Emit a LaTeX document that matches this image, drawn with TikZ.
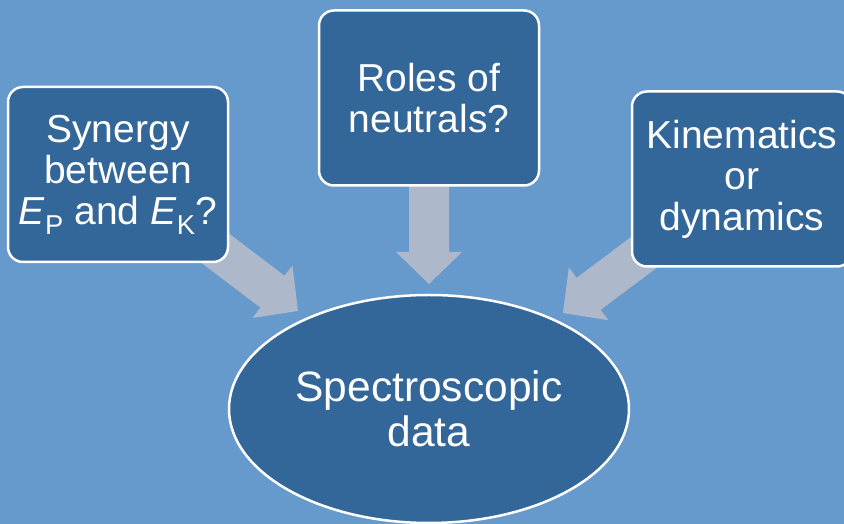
\documentclass[tikz,border=0pt]{standalone}
\usepackage{fontspec}
\setmainfont{Liberation Sans}
\usetikzlibrary{calc,shapes.geometric,backgrounds}
\definecolor{slidebg}{HTML}{6699CC}
\definecolor{boxblue}{HTML}{336699}
\definecolor{arrowgrey}{HTML}{ADB9CA}
% block arrow from #1 to tip #2
\newcommand\blockarrow[2]{%
  \coordinate (hb) at ($(#2)!32pt!(#1)$);
  \fill[arrowgrey] ($(#1)!20pt!90:(#2)$) -- ($(hb)!20pt!90:(#2)$) -- ($(hb)!33pt!90:(#2)$)
    -- (#2) -- ($(hb)!33pt!-90:(#2)$) -- ($(hb)!20pt!-90:(#2)$) -- ($(#1)!20pt!-90:(#2)$) -- cycle;}
\tikzset{
  qbox/.style={draw=white, line width=2.5pt, fill=boxblue, rounded corners=15pt,
    minimum width=220pt, minimum height=175pt, text=white, align=center,
    font=\fontsize{39}{41}\selectfont},
  databall/.style={ellipse, draw=white, line width=2.5pt, fill=boxblue, inner sep=0pt,
    minimum width=400pt, minimum height=228pt, text=white, align=center,
    font=\fontsize{42.5}{45}\selectfont}
}
\begin{document}
\begin{tikzpicture}[x=1pt,y=1pt]
  \useasboundingbox (0,0) rectangle (844,524);

  \node[qbox] (syn) at (118, 349.5) {Synergy\\between\\\textit{E}\textsubscript{P} and \textit{E}\textsubscript{K}?};
  \node[qbox] (neu) at (429, 426) {Roles of\\neutrals?};
  \node[qbox] (kin) at (742, 345) {Kinematics\\or\\dynamics};
  \node[databall] (spec) at (429, 115) {Spectroscopic\\data};

  \coordinate (tipL) at (298, 213);
  \coordinate (tipM) at (429, 240);
  \coordinate (tipR) at (563, 211);

  \begin{scope}[on background layer]
    \fill[slidebg] (0,0) rectangle (844,524);
    \blockarrow{syn.center}{tipL}
    \blockarrow{neu.center}{tipM}
    \blockarrow{kin.center}{tipR}
  \end{scope}
\end{tikzpicture}
\end{document}
